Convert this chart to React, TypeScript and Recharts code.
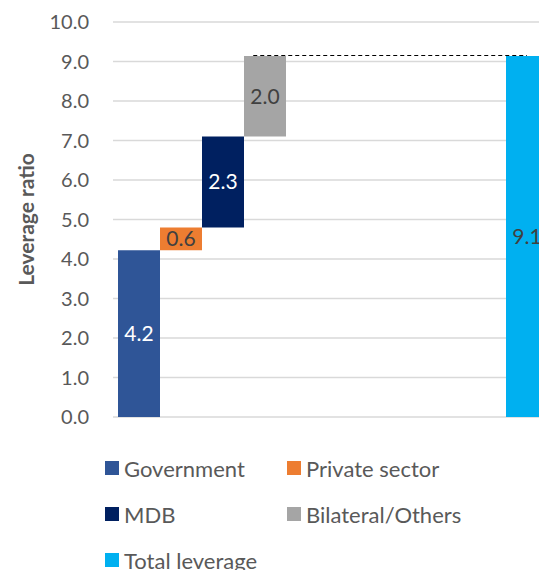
import React, { useRef } from 'react';
import { BarChart, Bar, XAxis, YAxis, CartesianGrid, LabelList, Legend, Rectangle } from 'recharts';

const categories = ['Contributions', 'Total'];
const seriesNames = ['Government', 'Private sector', 'MDB', 'Bilateral/Others', 'Total leverage'];
const seriesKeys = ['gov', 'priv', 'mdb', 'bil', 'total'];
const seriesColors = ['#2F5597', '#ED7D31', '#002060', '#A5A5A5', '#00B0F0'];
const labelColors = ['#FFFFFF', '#404040', '#FFFFFF', '#404040', '#404040'];
const contributionValues = [4.22, 0.58, 2.3, 2.04];
const totalValue = 9.14;
const yTicks = [0, 1, 2, 3, 4, 5, 6, 7, 8, 9, 10];

const FONT = 'Lato, "Open Sans", sans-serif';

function buildData() {
  const first: any = { cat: categories[0] };
  const second: any = { cat: categories[1] };
  let cum = 0;
  contributionValues.forEach((v, i) => {
    const k = seriesKeys[i];
    first[k] = [cum, cum + v];
    first[k + 'V'] = v;
    second[k] = null;
    second[k + 'V'] = null;
    cum += v;
  });
  first.total = null;
  first.totalV = null;
  second.total = [0, totalValue];
  second.totalV = totalValue;
  return [first, second];
}

const data = buildData();

const fmt = (v: any) => (v === null || v === undefined || isNaN(Number(v)) ? '' : Number(v).toFixed(1));

export default function App() {
  const bilRef = useRef<{ x: number; width: number } | null>(null);

  const plainShape = (props: any) => (
    <Rectangle x={props.x} y={props.y} width={props.width} height={props.height} fill={props.fill} />
  );
  const bilShape = (props: any) => {
    if (props.height > 0) bilRef.current = { x: props.x, width: props.width };
    return <Rectangle x={props.x} y={props.y} width={props.width} height={props.height} fill={props.fill} />;
  };
  const totalShape = (props: any) => {
    const b = bilRef.current;
    const ly = Math.floor(props.y) + 0.5;
    return (
      <g>
        <Rectangle x={props.x} y={props.y} width={props.width} height={props.height} fill={props.fill} />
        {b && props.height > 0 && (
          <line
            x1={b.x + b.width * 0.22}
            x2={props.x + props.width / 2}
            y1={ly}
            y2={ly}
            stroke="#000"
            strokeWidth={1}
            strokeDasharray="4 3"
          />
        )}
      </g>
    );
  };
  const shapes = [plainShape, plainShape, plainShape, bilShape, totalShape];

  const renderLegend = () => (
    <div
      style={{
        display: 'grid',
        gridTemplateColumns: '182px 220px',
        gridAutoRows: '46px',
        fontFamily: FONT,
        fontSize: 22,
        color: '#595959',
      }}
    >
      {seriesNames.map((n, i) => (
        <div key={n} style={{ display: 'flex', alignItems: 'center', whiteSpace: 'nowrap' }}>
          <span
            style={{ display: 'inline-block', width: 14, height: 14, background: seriesColors[i], marginRight: 5 }}
          />
          <span>{n}</span>
        </div>
      ))}
    </div>
  );

  return (
    <div
      style={{
        position: 'absolute',
        left: 0,
        top: 0,
        width: 539,
        height: 570,
        overflow: 'hidden',
        background: '#fff',
      }}
    >
      <BarChart
        width={553}
        height={570}
        data={data}
        margin={{ top: 22, right: 0, bottom: 153, left: 0 }}
        barGap={0}
        barSize={42}
        style={{ fontFamily: FONT }}
      >
        <CartesianGrid vertical={false} stroke="#D9D9D9" strokeWidth={1.3} />
        <XAxis dataKey="cat" hide />
        <YAxis
          width={113}
          domain={[0, 10]}
          ticks={yTicks}
          interval={0}
          axisLine={false}
          tickLine={false}
          tickSize={0}
          tickMargin={24}
          tickFormatter={(v: number) => v.toFixed(1)}
          tick={{ fill: '#595959', fontSize: 20, fontFamily: FONT }}
          label={{
            content: (p: any) => {
              const vb = p.viewBox || {};
              const cx = (vb.x || 0) + 25;
              const cy = (vb.y || 0) + (vb.height || 0) / 2;
              return (
                <text
                  x={cx}
                  y={cy}
                  transform={`rotate(-90, ${cx}, ${cy})`}
                  textAnchor="middle"
                  dominantBaseline="central"
                  fontWeight={700}
                  fontSize={21}
                  fill="#595959"
                  fontFamily={FONT}
                >
                  Leverage ratio
                </text>
              );
            },
          }}
        />
        <Legend
          verticalAlign="middle"
          align="center"
          wrapperStyle={{ top: 445, left: 105, width: 420 }}
          content={renderLegend}
        />
        {seriesKeys.map((k, i) => (
          <Bar
            key={k}
            dataKey={k}
            name={seriesNames[i]}
            fill={seriesColors[i]}
            isAnimationActive={false}
            shape={shapes[i]}
          >
            <LabelList
              dataKey={k + 'V'}
              position="center"
              fill={labelColors[i]}
              fontSize={21}
              fontFamily={FONT}
              formatter={fmt}
            />
          </Bar>
        ))}
      </BarChart>
    </div>
  );
}
